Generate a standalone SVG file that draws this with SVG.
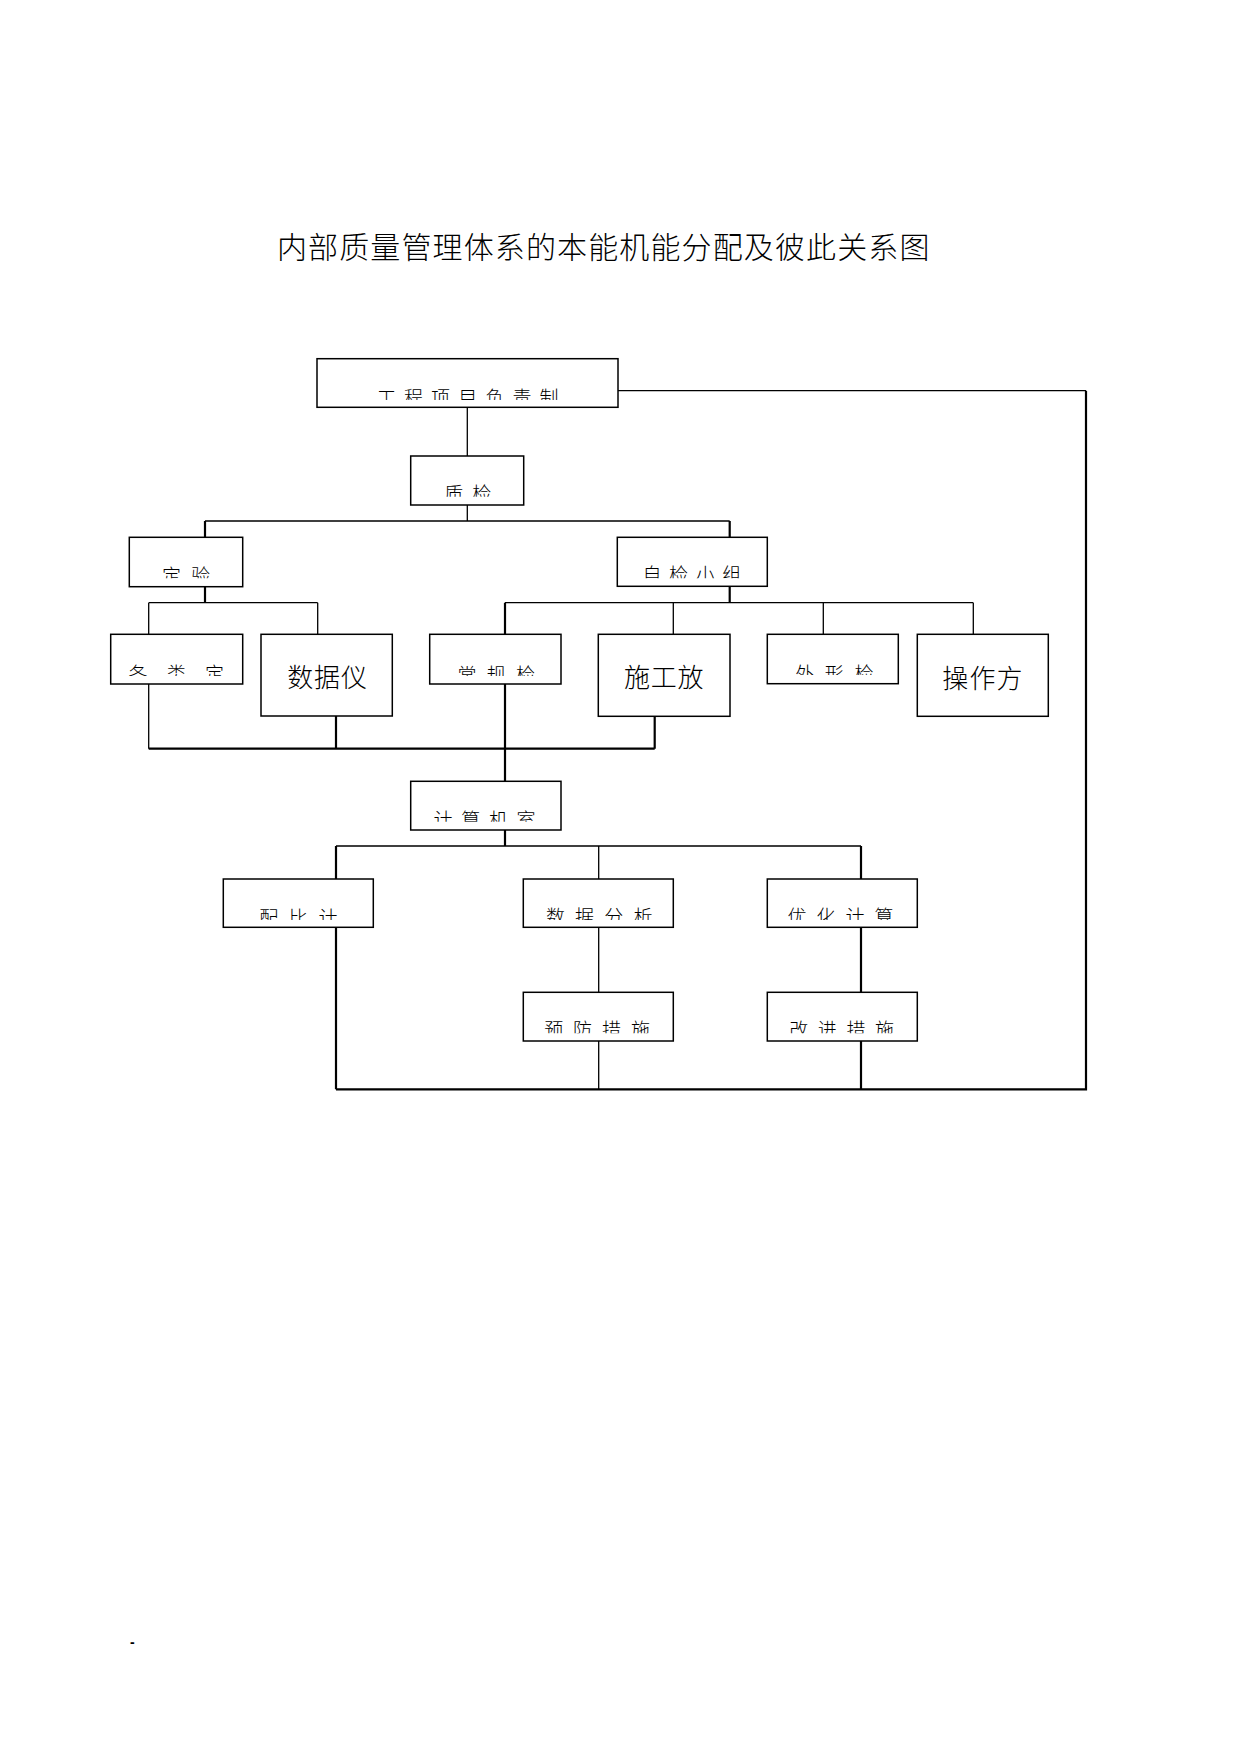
<svg xmlns="http://www.w3.org/2000/svg" width="1241" height="1754" viewBox="0 0 1241 1754">
<style>
.bg{fill:#ffffff}
.box{fill:#ffffff;stroke:#000000;stroke-width:1.5}
.ln{fill:none;stroke:#000000;stroke-width:1.3}
.lt{fill:none;stroke:#000000;stroke-width:2.2}
.t{font-family:"Noto Sans CJK SC","Noto Sans CJK JP",sans-serif;fill:#000000;font-size:19px;font-weight:300}
.tb{font-family:"Noto Sans CJK SC","Noto Sans CJK JP",sans-serif;fill:#000000;font-size:26px;font-weight:300}
.title{font-family:"Noto Sans CJK SC","Noto Sans CJK JP",sans-serif;fill:#000000;font-size:30px;letter-spacing:1.12px;font-weight:300}
</style>
<defs>
<clipPath id="c1"><rect x="317" y="359" width="301" height="41"/></clipPath>
<clipPath id="c2"><rect x="411" y="456" width="113" height="40.7"/></clipPath>
<clipPath id="c3"><rect x="129" y="537" width="114" height="41.3"/></clipPath>
<clipPath id="c4"><rect x="617" y="537" width="150" height="41.3"/></clipPath>
<clipPath id="c5"><rect x="111" y="634" width="132" height="42"/></clipPath>
<clipPath id="c7"><rect x="430" y="634" width="131" height="42"/></clipPath>
<clipPath id="c9"><rect x="767" y="634" width="131" height="41"/></clipPath>
<clipPath id="c11"><rect x="411" y="781" width="150" height="40.7"/></clipPath>
<clipPath id="c12"><rect x="223" y="879" width="150" height="41"/></clipPath>
<clipPath id="c13"><rect x="523" y="879" width="150" height="41"/></clipPath>
<clipPath id="c14"><rect x="767" y="879" width="150" height="41"/></clipPath>
<clipPath id="c15"><rect x="523" y="992" width="150" height="41.3"/></clipPath>
<clipPath id="c16"><rect x="767" y="992" width="150" height="41.3"/></clipPath>
</defs>
<rect class="bg" x="0" y="0" width="1241" height="1754"/>
<text id="title" class="title" x="277" y="257.7">内部质量管理体系的本能机能分配及彼此关系图</text>

<g id="connectors">
<path class="ln" d="M467.3 407.3V456"/>
<path class="ln" d="M618 390.7H1086"/>
<path class="lt" d="M1086 390.7V1089.3H336"/>
<path class="ln" d="M467.3 505V521M205 521H729.7"/>
<path class="lt" d="M205 521V537.3M729.7 521V537.3"/>
<path class="lt" d="M205 586.7V602.7"/>
<path class="ln" d="M148.7 602.7H317.7M148.7 602.7V634.3M317.7 602.7V634.3"/>
<path class="lt" d="M729.7 586.3V602.7"/>
<path class="ln" d="M505 602.7H973.3M673.3 602.7V634.3M823.3 602.7V634.3M973.3 602.7V634.3"/>
<path class="lt" d="M505 602.7V634.3"/>
<path class="ln" d="M148.7 684V748.7"/>
<path class="lt" d="M336 716V748.7M505 684V781.3M654.7 716.3V748.7M148.7 748.7H654.7"/>
<path class="lt" d="M505 830V846M336 846V879M861 846V879"/>
<path class="ln" d="M336 846H861M598.7 846V879"/>
<path class="lt" d="M336 927.3V1089.3"/>
<path class="ln" d="M598.7 927.3V992.3M598.7 1041V1089.3"/>
<path class="lt" d="M861 927.3V992.3M861 1041V1089.3"/>
</g>

<g id="n1"><rect class="box" x="317" y="358.7" width="301" height="48.6"/><text class="t" clip-path="url(#c1)" x="376.9" y="404.5" style="letter-spacing:8.1px">工程项目负责制</text></g>
<g id="n2"><rect class="box" x="410.7" y="456" width="113" height="49"/><text class="t" clip-path="url(#c2)" x="444.2" y="501.2" style="letter-spacing:9px">质检</text></g>
<g id="n3"><rect class="box" x="129.3" y="537.3" width="113.4" height="49.4"/><text class="t" clip-path="url(#c3)" x="161.9" y="582.8" style="letter-spacing:10px">定验</text></g>
<g id="n4"><rect class="box" x="617.3" y="537.3" width="150" height="49"/><text class="t" clip-path="url(#c4)" x="642.5" y="582.2" style="letter-spacing:7.6px">自检小组</text></g>
<g id="n5"><rect class="box" x="110.7" y="634.3" width="132" height="49.7"/><text class="t" clip-path="url(#c5)" x="128.5" y="680.5" style="letter-spacing:19.2px">各类定</text></g>
<g id="n6"><rect class="box" x="261" y="634.3" width="131.3" height="81.7"/><text class="tb" x="287.2" y="686.5" style="letter-spacing:0.85px">数据仪</text></g>
<g id="n7"><rect class="box" x="429.7" y="634.3" width="131.3" height="49.7"/><text class="t" clip-path="url(#c7)" x="457.5" y="682.2" style="letter-spacing:10.2px">常规检</text></g>
<g id="n8"><rect class="box" x="598.3" y="634.3" width="131.7" height="82"/><text class="tb" x="623.9" y="686.5" style="letter-spacing:0.85px">施工放</text></g>
<g id="n9"><rect class="box" x="767.3" y="634.3" width="131" height="49.4"/><text class="t" clip-path="url(#c9)" x="795.2" y="680.5" style="letter-spacing:10.6px">外形检</text></g>
<g id="n10"><rect class="box" x="917.3" y="634.3" width="131" height="82"/><text class="tb" x="942.2" y="688" style="letter-spacing:1.2px">操作方</text></g>
<g id="n11"><rect class="box" x="410.7" y="781.3" width="150.3" height="48.7"/><text class="t" clip-path="url(#c11)" x="433.5" y="826.5" style="letter-spacing:8.7px">计算机室</text></g>
<g id="n12"><rect class="box" x="223.3" y="879" width="150" height="48.3"/><text class="t" clip-path="url(#c12)" x="259.2" y="924.8" style="letter-spacing:10.6px">配比计</text></g>
<g id="n13"><rect class="box" x="523.3" y="879" width="150" height="48.3"/><text class="t" clip-path="url(#c13)" x="545.9" y="923.8" style="letter-spacing:10.2px">数据分析</text></g>
<g id="n14"><rect class="box" x="767.3" y="879" width="150" height="48.3"/><text class="t" clip-path="url(#c14)" x="787.5" y="923.8" style="letter-spacing:10px">优化计算</text></g>
<g id="n15"><rect class="box" x="523.3" y="992.3" width="150" height="48.7"/><text class="t" clip-path="url(#c15)" x="544.2" y="1037.2" style="letter-spacing:9.9px">预防措施</text></g>
<g id="n16"><rect class="box" x="767.3" y="992.3" width="150" height="48.7"/><text class="t" clip-path="url(#c16)" x="789.2" y="1037.2" style="letter-spacing:9.6px">改进措施</text></g>

<text id="dash" x="130" y="1646.5" style="font-family:'Liberation Sans',sans-serif;font-size:14px;font-weight:bold;fill:#000000">-</text>
</svg>
